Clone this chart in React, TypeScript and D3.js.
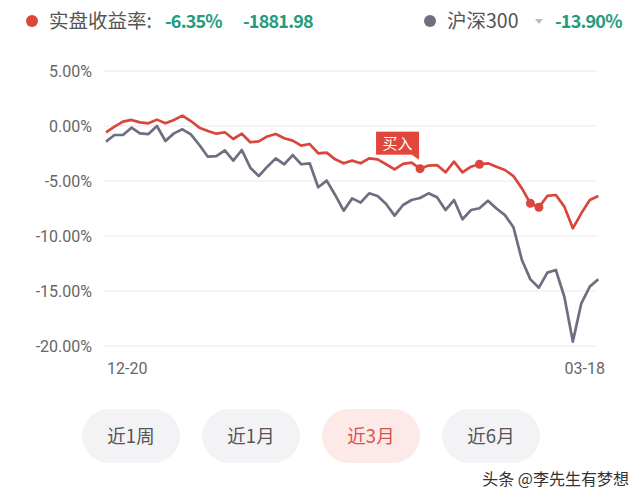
import React from "react";
import * as d3 from "d3";

const portfolio = [
  -0.57, -0.06, 0.4, 0.55, 0.33, 0.24, 0.58, 0.24, 0.55, 0.94,
  0.45, -0.15, -0.45, -0.7, -0.57, -1.18, -0.7, -1.48, -1.4, -0.95,
  -0.73, -1.12, -1.33, -1.79, -1.64, -2.48, -2.42, -3.03, -3.39, -3.15,
  -3.39, -2.94, -3.03, -3.48, -3.94, -3.45, -3.33, -3.88, -3.6, -3.55,
  -4.21, -3.24, -4.21, -3.7, -3.48, -3.39, -3.7, -4.0, -4.55, -5.67,
  -7.03, -7.39, -6.36, -6.27, -7.33, -9.3, -7.94, -6.73, -6.36,
];
const hs300 = [
  -1.42, -0.82, -0.82, -0.15, -0.67, -0.73, 0.0, -1.36, -0.67, -0.3,
  -0.76, -1.73, -2.79, -2.73, -2.21, -3.15, -2.18, -3.79, -4.55, -3.7,
  -2.94, -3.48, -2.64, -3.48, -3.39, -5.57, -4.97, -6.27, -7.7, -6.58,
  -6.97, -6.12, -6.36, -7.09, -8.15, -7.18, -6.73, -6.55, -6.12, -6.48,
  -7.64, -6.73, -8.48, -7.64, -7.48, -6.79, -7.5, -8.1, -9.2, -12.18,
  -13.94, -14.7, -13.33, -13.09, -15.52, -19.6, -16.12, -14.6, -13.94,
];
const tradeIdx = [37, 44, 50, 51];
const buyIdx = 37;
const yTicks = [5, 0, -5, -10, -15, -20];
const xLabels = ["12-20", "03-18"];
const periods = ["近1周", "近1月", "近3月", "近6月"];
const activePeriod = "近3月";

const RED = "#d9463b";
const GRAY = "#6b6f7f";
const GREEN = "#229c7c";
const CJK = "'Noto Sans CJK SC', 'Noto Sans', sans-serif";
const NUM = "Roboto, 'Noto Sans CJK SC', sans-serif";

export default function App() {
  const x = d3.scaleLinear().domain([0, portfolio.length - 1]).range([106, 598.3]);
  const y = d3.scaleLinear().domain([-20, 5]).range([346, 71]);
  const line = d3
    .line<number>()
    .x((_, i) => x(i))
    .y((d) => y(d));

  const bx = x(buyIdx);
  const by = y(portfolio[buyIdx]);

  const pillX = d3.scalePoint().domain(periods).range([131, 491]);

  return (
    <div style={{ position: "fixed", left: 0, top: 0, width: 640, height: 492, background: "#fff" }}>
      <svg width={640} height={492} style={{ display: "block" }} fontFamily={CJK}>
        <rect width={640} height={492} fill="#fff" />
        {/* header */}
        <circle cx={32} cy={21} r={6} fill={RED} />
        <text x={49} y={28} fontSize={19.5} fill="#555">实盘收益率:</text>
        <text x={165} y={28} fontSize={18} fill={GREEN} fontWeight={600} letterSpacing={-0.8}>-6.35%</text>
        <text x={243} y={28} fontSize={18} fill={GREEN} fontWeight={600} letterSpacing={-0.8}>-1881.98</text>
        <circle cx={430} cy={21} r={6} fill={GRAY} />
        <text x={447} y={28} fontSize={19.5} fill="#555">沪深300</text>
        <path d="M535,19 L543,19 L539,24 Z" fill="#bbb" />
        <text x={555} y={28} fontSize={18} fill={GREEN} fontWeight={600} letterSpacing={-0.8}>-13.90%</text>

        {/* grid + y labels */}
        {yTicks.map((t) => (
          <g key={t}>
            <line x1={104} x2={597} y1={y(t)} y2={y(t)} stroke="#f0f0f0" strokeWidth={1.5} />
            <text x={92} y={y(t)} dy="0.36em" textAnchor="end" fontSize={16} fill="#666" fontFamily={NUM}>
              {t.toFixed(2)}%
            </text>
          </g>
        ))}

        {/* x labels */}
        <text x={107} y={374} fontSize={16} fill="#666" fontFamily={NUM}>{xLabels[0]}</text>
        <text x={605} y={374} fontSize={16} fill="#666" fontFamily={NUM} textAnchor="end">{xLabels[1]}</text>

        {/* lines */}
        <path d={line(hs300) || ""} fill="none" stroke={GRAY} strokeWidth={2.7} strokeLinejoin="round" />
        <path d={line(portfolio) || ""} fill="none" stroke={RED} strokeWidth={2.7} strokeLinejoin="round" />
        {tradeIdx.map((i) => (
          <circle key={i} cx={x(i)} cy={y(portfolio[i])} r={4.5} fill={RED} />
        ))}

        {/* buy label */}
        <g>
          <rect x={bx - 44} y={by - 37} width={43} height={23} fill="#e0463b" />
          <path d={`M${bx - 9},${by - 14.5} L${bx - 1},${by - 14.5} L${bx - 1},${by - 9} Z`} fill="#e0463b" />
          <text x={bx - 22.5} y={by - 25.5} dy="0.36em" textAnchor="middle" fontSize={15} fill="#fff">买入</text>
        </g>

        {/* period buttons */}
        {periods.map((p) => {
          const cx = pillX(p) as number;
          const active = p === activePeriod;
          return (
            <g key={p}>
              <rect x={cx - 49} y={409} width={98} height={54} rx={27} fill={active ? "#fde9e7" : "#f3f3f5"} />
              <text x={cx} y={436} dy="0.36em" textAnchor="middle" fontSize={18.5} fill={active ? "#d9544a" : "#555"}>
                {p}
              </text>
            </g>
          );
        })}

        {/* watermark */}
        <text x={629} y={479} dy="0.36em" textAnchor="end" fontSize={16} fill="#333" stroke="#fff" strokeWidth={3} paintOrder="stroke">
          头条 @李先生有梦想
        </text>
      </svg>
    </div>
  );
}
